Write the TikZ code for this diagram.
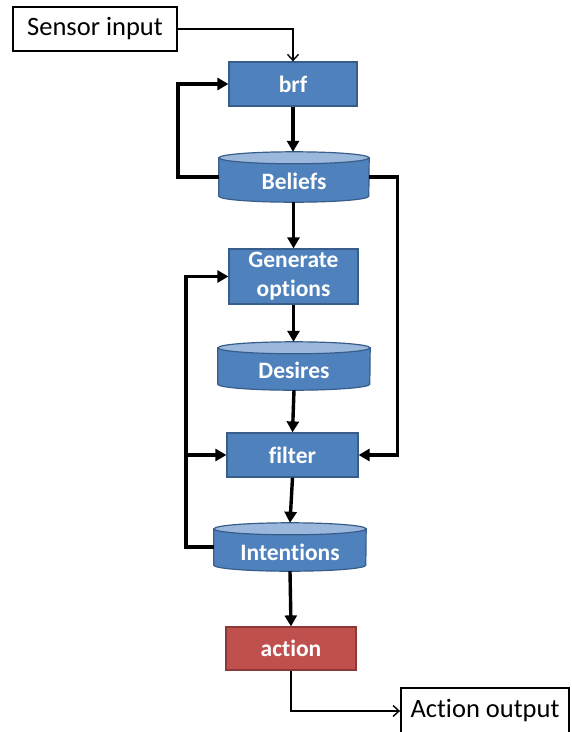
\documentclass[tikz,border=0pt]{standalone}
\usepackage{fontspec}
\setmainfont{Carlito}[Ligatures={NoCommon,NoRare,NoContextual}]
\usetikzlibrary{arrows.meta}
\definecolor{boxblue}{HTML}{4F81BD}
\definecolor{blueedge}{HTML}{385D8A}
\definecolor{bluetop}{HTML}{9BB7DB}
\definecolor{boxred}{HTML}{C0504D}
\definecolor{rededge}{HTML}{8C3836}

% store drawn as a drum over the named frame node #1, end ellipse half-height #2
\newcommand\drumshape[2]{%
  \path[draw=blueedge, line width=1.2pt, fill=boxblue]
    ([yshift=-#2]#1.north west) -- ([yshift=#2]#1.south west)
    arc[start angle=180, end angle=0, x radius=0.5*\pgfkeysvalueof{/drum/w}, y radius=#2]
    -- ([yshift=-#2]#1.north east) -- cycle;
  \path[draw=blueedge, line width=1.2pt, fill=bluetop]
    ([yshift=-#2]#1.north) ellipse[x radius=0.5*\pgfkeysvalueof{/drum/w}, y radius=#2];
}
\pgfkeys{/drum/w/.initial=150}

\begin{document}
\begin{tikzpicture}[x=1pt, y=-1pt,
  proc/.style={draw=blueedge, line width=1.2pt, fill=boxblue, text=white,
    font=\bfseries\fontsize{23.5}{29}\selectfont, inner sep=0pt, align=center},
  frame/.style={inner sep=0pt},
  label/.style={text=white, font=\bfseries\fontsize{23.5}{29}\selectfont, inner sep=0pt},
  io/.style={draw=black, line width=1.8pt, fill=white,
    font=\fontsize{26.5}{30}\selectfont, inner sep=0pt},
  flow/.style={line width=3.4pt, -{Triangle[length=11pt, width=12pt]}},
  feed/.style={line width=1.4pt, -{Straight Barb[length=6pt, width=11pt]}}]

\useasboundingbox (0,0) rectangle (572,732);

% input and output boxes
\node[io, minimum width=164pt, minimum height=44pt] (sensor) at (95,29) {Sensor input};
\node[io, minimum width=168pt, minimum height=46pt] (out) at (485,711) {Action output};

% process boxes
\node[proc, minimum width=128pt, minimum height=44pt] (brf) at (293,84) {brf};
\node[proc, minimum width=129pt, minimum height=55pt] (gen) at (293.5,276.5) {Generate\\options};
\node[proc, minimum width=131pt, minimum height=44pt] (flt) at (292.5,455) {filter};
\node[proc, draw=rededge, fill=boxred, minimum width=130pt, minimum height=43pt] (act) at (291,648.5) {action};

% stores
\node[frame, minimum width=150pt, minimum height=50pt] (bel) at (294,177) {};
\pgfkeys{/drum/w=150}\drumshape{bel}{6}
\node[label] at (294,181) {Beliefs};

\node[frame, minimum width=152pt, minimum height=48pt] (des) at (294,366) {};
\pgfkeys{/drum/w=152}\drumshape{des}{6}
\node[label] at (294,370) {Desires};

\node[frame, minimum width=152pt, minimum height=48pt] (int) at (290,547) {};
\pgfkeys{/drum/w=152}\drumshape{int}{6}
\node[label] at (290,552) {Intentions};

% connectors
\draw[feed] (sensor.east) -| (brf.north);
\draw[flow] (brf.south) -- (brf.south |- bel.north);
\draw[flow] (bel.west) -- ++(-41,0) |- (brf.west);
\draw[flow] (bel.south -| gen.north) -- (gen.north);
\draw[flow] (bel.east) -- ++(28,0) |- (flt.east);
\draw[flow] (gen.south) -- (gen.south |- des.north);
\draw[flow] (des.south) -- (flt.north);
\draw[flow] (flt.south) -- (int.north);
\draw[flow] (int.west) -- ++(-28,0) coordinate (loop) |- (gen.west);
\draw[flow] (loop |- flt.west) -- (flt.west);
\draw[flow] (int.south) -- (act.north);
\draw[feed] (act.south) |- (out.west);
\end{tikzpicture}
\end{document}
